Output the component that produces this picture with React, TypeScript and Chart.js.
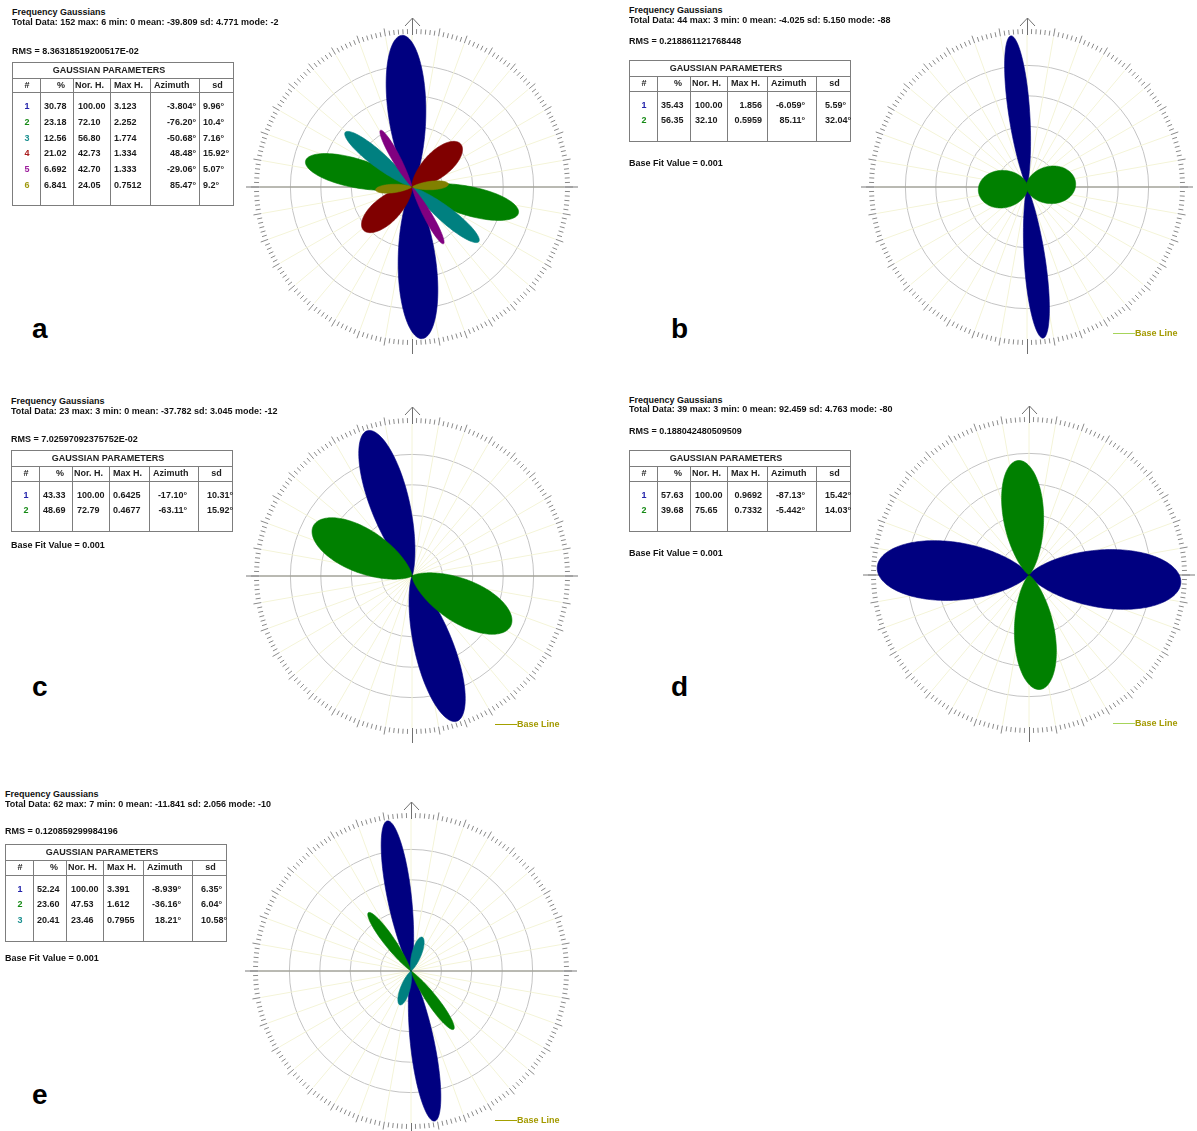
import React, { useEffect, useRef } from "react";
import { Chart, registerables } from "chart.js";

Chart.register(...registerables);

const FONT = '"Liberation Sans", Arial, Helvetica, sans-serif';
const COMPONENT_COLORS = ["#000080", "#008000", "#008080", "#800000", "#800080", "#808000"];
const NUMBER_COLORS = ["#2222aa", "#158a15", "#1a8f8f", "#aa1c1c", "#9c1c9c", "#a09a10"];

// radar categories: azimuth in degrees, clockwise from north
const AZIMUTH_STEPS = Array.from({ length: 720 }, (_, i) => i * 0.5);
// the program draws its petals somewhat wider than the tabulated sd
const PETAL_SPREAD = 1.22;

// ---- panel a ----
const A_TOTAL = "Total Data: 152 max: 6 min: 0 mean: -39.809 sd: 4.771 mode: -2";
const A_RMS = "RMS = 8.36318519200517E-02";
const A_PCT = ["30.78", "23.18", "12.56", "21.02", "6.692", "6.841"];
const A_NORH = ["100.00", "72.10", "56.80", "42.73", "42.70", "24.05"];
const A_MAXH = ["3.123", "2.252", "1.774", "1.334", "1.333", "0.7512"];
const A_AZ = ["-3.804", "-76.20", "-50.68", "48.48", "-29.06", "85.47"];
const A_SD = ["9.96", "10.4", "7.16", "15.92", "5.07", "9.2"];

// ---- panel b ----
const B_TOTAL = "Total Data: 44 max: 3 min: 0 mean: -4.025 sd: 5.150 mode: -88";
const B_RMS = "RMS = 0.218861121768448";
const B_PCT = ["35.43", "56.35"];
const B_NORH = ["100.00", "32.10"];
const B_MAXH = ["1.856", "0.5959"];
const B_AZ = ["-6.059", "85.11"];
const B_SD = ["5.59", "32.04"];

// ---- panel c ----
const C_TOTAL = "Total Data: 23 max: 3 min: 0 mean: -37.782 sd: 3.045 mode: -12";
const C_RMS = "RMS = 7.02597092375752E-02";
const C_PCT = ["43.33", "48.69"];
const C_NORH = ["100.00", "72.79"];
const C_MAXH = ["0.6425", "0.4677"];
const C_AZ = ["-17.10", "-63.11"];
const C_SD = ["10.31", "15.92"];

// ---- panel d ----
const D_TOTAL = "Total Data: 39 max: 3 min: 0 mean: 92.459 sd: 4.763 mode: -80";
const D_RMS = "RMS = 0.188042480509509";
const D_PCT = ["57.63", "39.68"];
const D_NORH = ["100.00", "75.65"];
const D_MAXH = ["0.9692", "0.7332"];
const D_AZ = ["-87.13", "-5.442"];
const D_SD = ["15.42", "14.03"];

// ---- panel e ----
const E_TOTAL = "Total Data: 62 max: 7 min: 0 mean: -11.841 sd: 2.056 mode: -10";
const E_RMS = "RMS = 0.120859299984196";
const E_PCT = ["52.24", "23.60", "20.41"];
const E_NORH = ["100.00", "47.53", "23.46"];
const E_MAXH = ["3.391", "1.612", "0.7955"];
const E_AZ = ["-8.939", "-36.16", "18.21"];
const E_SD = ["6.35", "6.04", "10.58"];

const BASE_FIT = "Base Fit Value = 0.001";

const PANELS = [
  { key: "a", total: A_TOTAL, rms: A_RMS, pct: A_PCT, norh: A_NORH, maxh: A_MAXH, az: A_AZ, sd: A_SD, baseFit: false },
  { key: "b", total: B_TOTAL, rms: B_RMS, pct: B_PCT, norh: B_NORH, maxh: B_MAXH, az: B_AZ, sd: B_SD, baseFit: true },
  { key: "c", total: C_TOTAL, rms: C_RMS, pct: C_PCT, norh: C_NORH, maxh: C_MAXH, az: C_AZ, sd: C_SD, baseFit: true },
  { key: "d", total: D_TOTAL, rms: D_RMS, pct: D_PCT, norh: D_NORH, maxh: D_MAXH, az: D_AZ, sd: D_SD, baseFit: true },
  { key: "e", total: E_TOTAL, rms: E_RMS, pct: E_PCT, norh: E_NORH, maxh: E_MAXH, az: E_AZ, sd: E_SD, baseFit: true },
];

// layout (positions only)
const LAYOUT: Record<string, any> = {
  a: { x: 12, yTitle: 12.3, yTotal: 22.7, yRms: 51, tableTop: 61.7, yBase: 0, cx: 412, cy: 187, lx: 32, ly: 315, azPad: 4, sdPad: 3, maxRight: false, line: null, lineColor: "" },
  b: { x: 629, yTitle: 10, yTotal: 20, yRms: 41.7, tableTop: 60, yBase: 163.3, cx: 1027, cy: 187, lx: 671, ly: 315, azPad: 12, sdPad: 8, maxRight: true, line: [1113, 333], lineColor: "#a6d45a" },
  c: { x: 11, yTitle: 401, yTotal: 411.7, yRms: 439, tableTop: 450, yBase: 545, cx: 412, cy: 576, lx: 32, ly: 673, azPad: 12, sdPad: 8, maxRight: false, line: [495, 724], lineColor: "#a3a000" },
  d: { x: 629, yTitle: 400, yTotal: 409.3, yRms: 431.7, tableTop: 450, yBase: 553.3, cx: 1029, cy: 575, lx: 671, ly: 673, azPad: 12, sdPad: 8, maxRight: true, line: [1113, 723], lineColor: "#a6d45a" },
  e: { x: 5, yTitle: 794, yTotal: 804, yRms: 831.7, tableTop: 844.3, yBase: 958.3, cx: 411, cy: 971, lx: 32, ly: 1081, azPad: 12, sdPad: 8, maxRight: false, line: [495, 1120], lineColor: "#a3a000" },
};

const COL_W = [28, 33, 37, 40, 49, 35];
const FS = 9;

const roseDecor = {
  id: "roseDecor",
  beforeDatasetsDraw(chart: any) {
    const s = chart.scales.r;
    const ctx = chart.ctx;
    const cx = s.xCenter, cy = s.yCenter, R = s.drawingArea;
    ctx.save();
    ctx.strokeStyle = "#7a7a7a";
    ctx.lineWidth = 1.2;
    ctx.beginPath();
    ctx.moveTo(cx - R - 14, cy);
    ctx.lineTo(cx + R + 14, cy);
    ctx.stroke();
    ctx.restore();
  },
  afterDraw(chart: any) {
    const s = chart.scales.r;
    const ctx = chart.ctx;
    const cx = s.xCenter, cy = s.yCenter, R = s.drawingArea;
    ctx.save();
    ctx.strokeStyle = "#8a8a8a";
    ctx.lineWidth = 1;
    ctx.beginPath();
    for (let k = 1; k < 216; k++) {
      if (k === 108) continue;
      const a = (k * 10) / 6 * Math.PI / 180;
      const len = k % 6 === 0 ? 8 : 5;
      const sx = Math.sin(a), cy2 = Math.cos(a);
      ctx.moveTo(cx + (R + 1) * sx, cy - (R + 1) * cy2);
      ctx.lineTo(cx + (R + 1 + len) * sx, cy - (R + 1 + len) * cy2);
    }
    ctx.stroke();
    // north arrow
    ctx.strokeStyle = "#707070";
    ctx.beginPath();
    ctx.moveTo(cx + 0.5, cy - R);
    ctx.lineTo(cx + 0.5, cy - R - 17);
    ctx.moveTo(cx - 7, cy - R - 9);
    ctx.lineTo(cx + 0.5, cy - R - 17);
    ctx.lineTo(cx + 8, cy - R - 9);
    // south stub
    ctx.moveTo(cx + 0.5, cy + R);
    ctx.lineTo(cx + 0.5, cy + R + 15);
    ctx.stroke();
    ctx.restore();
  },
};

function RosePlot({ cx, cy, norh, az, sd }: { cx: number; cy: number; norh: number[]; az: number[]; sd: number[] }) {
  const ref = useRef<HTMLCanvasElement | null>(null);
  useEffect(() => {
    if (!ref.current) return;
    const datasets = norh.map((h, i) => ({
      label: String(i + 1),
      data: AZIMUTH_STEPS.map((t) => {
        let d = (((t - az[i]) % 180) + 180) % 180;
        if (d > 90) d -= 180;
        const s = sd[i] * PETAL_SPREAD;
        return h * Math.exp(-(d * d) / (2 * s * s));
      }),
      backgroundColor: COMPONENT_COLORS[i],
      borderColor: COMPONENT_COLORS[i],
      borderWidth: 0.6,
      fill: "origin",
      pointRadius: 0,
      order: -i,
    }));
    const chart = new Chart(ref.current, {
      type: "radar",
      data: { labels: AZIMUTH_STEPS.map(String), datasets },
      options: {
        responsive: false,
        animation: false,
        events: [],
        layout: { padding: 28 },
        plugins: { legend: { display: false }, tooltip: { enabled: false } },
        elements: { point: { radius: 0 }, line: { tension: 0 } },
        scales: {
          r: {
            min: 0,
            max: 100,
            beginAtZero: true,
            ticks: { display: false, stepSize: 20 },
            pointLabels: { display: false },
            grid: {
              circular: true,
              color: (c: any) => (c.tick && c.tick.value >= 100 ? "rgba(0,0,0,0)" : "#c4c4c4"),
              lineWidth: 1,
            },
            angleLines: {
              display: true,
              color: "#f4f4d8",
              lineWidth: (c: any) => (c.index % 20 === 0 ? 1 : 0),
            },
          },
        },
      } as any,
      plugins: [roseDecor],
    });
    return () => chart.destroy();
  }, []);
  return (
    <canvas
      ref={ref}
      width={360}
      height={360}
      style={{ position: "absolute", left: cx - 180, top: cy - 180, width: 360, height: 360 }}
    />
  );
}

const txt = (x: number, cy: number, s: string, extra: any = {}) => (
  <div
    style={{
      position: "absolute",
      left: x,
      top: cy - 4.5,
      fontFamily: FONT,
      fontSize: FS,
      lineHeight: FS + "px",
      whiteSpace: "nowrap",
      fontWeight: "bold",
      color: "#111",
      ...extra,
    }}
  >
    {s}
  </div>
);

function Cell({ x, w, cy, s, align, pad, color }: any) {
  const st: any = {
    position: "absolute",
    top: cy - 4.5,
    fontFamily: FONT,
    fontSize: FS,
    lineHeight: FS + "px",
    whiteSpace: "nowrap",
    color: color || "#1a1a1a",
    fontWeight: "bold",
  };
  if (align === "center") {
    st.left = x;
    st.width = w;
    st.textAlign = "center";
  } else if (align === "right") {
    st.left = x;
    st.width = w - pad;
    st.textAlign = "right";
  } else {
    st.left = x + pad;
  }
  return <div style={st}>{s}</div>;
}

function ParamTable({ p, L }: any) {
  const n = p.pct.length;
  const W = COL_W.reduce((a: number, b: number) => a + b, 0);
  const H = 30 + 14 + (n - 1) * 15.7 + 22;
  const colX: number[] = [];
  let acc = 0;
  COL_W.forEach((w) => {
    colX.push(acc);
    acc += w;
  });
  const border = "#7d7d7d";
  const rows: any[] = [];
  for (let i = 0; i < n; i++) {
    const cy = 44 + i * 15.7;
    rows.push(
      <React.Fragment key={i}>
        <Cell x={colX[0]} w={COL_W[0]} cy={cy} s={String(i + 1)} align="center" color={NUMBER_COLORS[i]} />
        <Cell x={colX[1]} w={COL_W[1]} cy={cy} s={p.pct[i]} align="left" pad={3} />
        <Cell x={colX[2]} w={COL_W[2]} cy={cy} s={p.norh[i]} align="left" pad={4} />
        <Cell x={colX[3]} w={COL_W[3]} cy={cy} s={p.maxh[i]} align={L.maxRight ? "right" : "left"} pad={L.maxRight ? 6 : 3} />
        <Cell x={colX[4]} w={COL_W[4]} cy={cy} s={p.az[i] + "°"} align="right" pad={L.azPad} />
        <Cell x={colX[5]} w={COL_W[5]} cy={cy} s={p.sd[i] + "°"} align="left" pad={L.sdPad} />
      </React.Fragment>
    );
  }
  return (
    <div
      style={{
        position: "absolute",
        left: L.x,
        top: L.tableTop,
        width: W,
        height: H,
        border: "1px solid " + border,
        boxSizing: "border-box",
        background: "transparent",
      }}
    >
      <Cell x={0} w={W - 30} cy={7.5} s="GAUSSIAN PARAMETERS" align="center" color="#222" />
      <div style={{ position: "absolute", left: 0, top: 15, width: W - 2, height: 1, background: border }} />
      <div style={{ position: "absolute", left: 0, top: 29.5, width: W - 2, height: 1, background: border }} />
      {colX.slice(1).map((x, i) => (
        <div key={i} style={{ position: "absolute", left: x - 1, top: 15, width: 1, height: H - 17, background: border }} />
      ))}
      <Cell x={colX[0]} w={COL_W[0]} cy={22.5} s="#" align="center" color="#222" />
      <Cell x={colX[1]} w={COL_W[1]} cy={22.5} s="%" align="right" pad={9} color="#222" />
      <Cell x={colX[2]} w={COL_W[2]} cy={22.5} s="Nor. H." align="left" pad={1} color="#222" />
      <Cell x={colX[3]} w={COL_W[3]} cy={22.5} s="Max H." align="left" pad={3} color="#222" />
      <Cell x={colX[4]} w={COL_W[4]} cy={22.5} s="Azimuth" align="left" pad={3} color="#222" />
      <Cell x={colX[5]} w={COL_W[5]} cy={22.5} s="sd" align="center" color="#222" />
      {rows}
    </div>
  );
}

function Panel({ p }: any) {
  const L = LAYOUT[p.key];
  return (
    <>
      <RosePlot
        cx={L.cx}
        cy={L.cy}
        norh={p.norh.map(Number)}
        az={p.az.map(Number)}
        sd={p.sd.map(Number)}
      />
      {txt(L.x, L.yTitle, "Frequency Gaussians")}
      {txt(L.x, L.yTotal, p.total)}
      {txt(L.x, L.yRms, p.rms)}
      <ParamTable p={p} L={L} />
      {p.baseFit ? txt(L.x, L.yBase, BASE_FIT) : null}
      {L.line ? (
        <>
          <div style={{ position: "absolute", left: L.line[0], top: L.line[1], width: 22, height: 1, background: L.lineColor }} />
          {txt(L.line[0] + 22, L.line[1] + 0.5, "Base Line", { color: "#a39a00" })}
        </>
      ) : null}
      <div
        style={{
          position: "absolute",
          left: L.lx,
          top: L.ly,
          fontFamily: FONT,
          fontSize: 28,
          lineHeight: "28px",
          fontWeight: "bold",
          color: "#000",
        }}
      >
        {p.key}
      </div>
    </>
  );
}

export default function App() {
  return (
    <div
      style={{
        position: "absolute",
        left: 0,
        top: 0,
        width: 1197,
        height: 1131,
        background: "#ffffff",
        overflow: "hidden",
      }}
    >
      {PANELS.map((p) => (
        <Panel key={p.key} p={p} />
      ))}
    </div>
  );
}
